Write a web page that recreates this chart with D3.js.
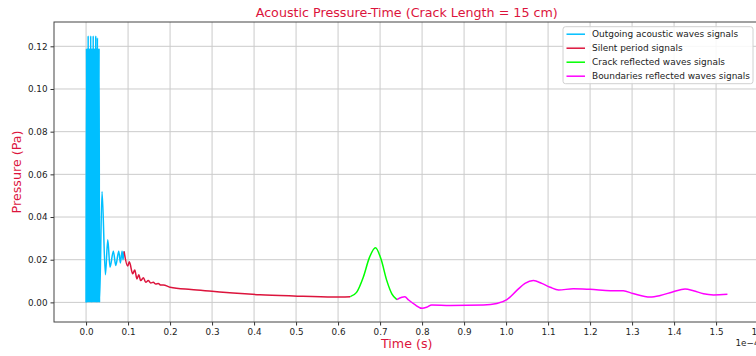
<!DOCTYPE html>
<html>
  <head>
    <script src="https://d3js.org/d3.v7.min.js"></script>
    <style>
      body { margin: 0; background: #fff; }
      svg { display: block; overflow: hidden; font-family: "DejaVu Sans", sans-serif; }
    </style>
  </head>
  <body>
    <svg width="756" height="356"></svg>
  <script>
    // time values are in units of 1e-4 s (matplotlib offset text)
    const outgoingT = [0.000,0.001,0.002,0.003,0.004,0.005,0.006,0.007,0.008,0.009,0.010,0.011,0.012,0.013,0.014,0.015,0.016,
      0.017,0.018,0.019,0.020,0.021,0.022,0.023,0.024,0.025,0.026,0.027,0.028,0.029,0.030,0.031,0.032,
      0.038,0.046,0.0517,0.057,0.065,0.0707,0.0778,0.0817,0.0857,0.088,0.0905];
    const outgoingP = [0,0.119,0,0.119,0,0.125,0,0.119,0,0.119,0,0.125,0,0.119,0,0.119,0,
      0.125,0,0.119,0,0.119,0,0.125,0,0.119,0,0.124,0,0.119,0,0.119,0,
      0.052,0.013,0.0294,0.0165,0.024,0.0173,0.024,0.0185,0.024,0.020,0.0239];

    const silentT = [0.0905,0.099,0.103,0.111,0.116,0.121,0.1255,0.130,0.1365,0.142,0.148,0.154,0.16,0.166,0.172,0.178,0.184,0.2,0.25,0.3,0.35,0.414,0.494,0.589,0.629];
    const silentP = [0.0239,0.017,0.019,0.0134,0.0152,0.011,0.0129,0.0102,0.0115,0.0094,0.0102,0.0091,0.0094,0.0086,0.0088,0.0081,0.0082,0.0071,0.006,0.0052,0.0044,0.0036,0.003,0.0025,0.0027];

    const crackT = [0.629,0.644,0.66,0.675,0.689,0.702,0.716,0.728,0.74];
    const crackP = [0.0027,0.0047,0.0118,0.0212,0.0256,0.0204,0.0102,0.004,0.0013];

    const boundT = [0.74,0.752,0.759,0.768,0.783,0.8,0.811,0.823,0.867,0.946,0.978,1.002,1.025,1.045,1.065,1.085,1.105,1.125,
      1.16,1.2,1.248,1.279,1.302,1.343,1.367,1.398,1.426,1.446,1.47,1.494,1.527];
    const boundP = [0.0013,0.0024,0.0026,0.0011,-0.0011,-0.0028,-0.0023,-0.0012,-0.0014,-0.0012,-0.0005,0.0013,0.0055,0.0089,0.0102,0.0089,0.0071,0.0058,
      0.0064,0.0061,0.0055,0.0054,0.0042,0.0025,0.0032,0.005,0.0063,0.0055,0.004,0.0035,0.0038];

    const xTicks = [0.0,0.1,0.2,0.3,0.4,0.5,0.6,0.7,0.8,0.9,1.0,1.1,1.2,1.3,1.4,1.5,1.6];
    const yTicks = [0.00,0.02,0.04,0.06,0.08,0.10,0.12];

    const seriesNames = ["Outgoing acoustic waves signals","Silent period signals","Crack reflected waves signals","Boundaries reflected waves signals"];
    const seriesColors = ["#00bfff","#dc143c","#00ff00","#ff00ff"];

    const svg = d3.select('svg');
    const margin = { top: 22, left: 54 };
    const plotW = 705.5;
    const plotH = 300;

    const series = [
      outgoingT.map((t, i) => [t, outgoingP[i]]),
      silentT.map((t, i) => [t, silentP[i]]),
      crackT.map((t, i) => [t, crackP[i]]),
      boundT.map((t, i) => [t, boundP[i]])
    ];
    const all = series.flat();

    // matplotlib style 5% margins
    const pad = ([a, b]) => { const m = (b - a) * 0.05; return [a - m, b + m]; };
    const xScale = d3.scaleLinear().domain(pad(d3.extent(all, d => d[0]))).range([0, plotW]);
    const yScale = d3.scaleLinear().domain(pad(d3.extent(all, d => d[1]))).range([plotH, 0]);

    const g = svg.append('g')
      .attr('transform', `translate(${margin.left},${margin.top})`);

    // grid
    g.append('g').selectAll('line').data(xTicks).enter().append('line')
      .attr('x1', d => xScale(d)).attr('x2', d => xScale(d))
      .attr('y1', 0).attr('y2', plotH)
      .attr('stroke', '#cbcbcb').attr('stroke-width', 1);
    g.append('g').selectAll('line').data(yTicks).enter().append('line')
      .attr('y1', d => yScale(d)).attr('y2', d => yScale(d))
      .attr('x1', 0).attr('x2', plotW)
      .attr('stroke', '#cbcbcb').attr('stroke-width', 1);

    // series
    const line = d3.line()
      .x(d => xScale(d[0]))
      .y(d => yScale(d[1]))
      .curve(d3.curveMonotoneX);

    series.forEach((s, i) => {
      g.append('path')
        .attr('d', line(s))
        .attr('fill', 'none')
        .attr('stroke', seriesColors[i])
        .attr('stroke-width', 1.5)
        .attr('stroke-linejoin', 'round');
    });

    // axes
    const xAxis = d3.axisBottom(xScale).tickValues(xTicks).tickFormat(d3.format('.1f')).tickSize(3.5).tickPadding(3);
    const yAxis = d3.axisLeft(yScale).tickValues(yTicks).tickFormat(d3.format('.2f')).tickSize(3.5).tickPadding(3);

    const xAxisG = g.append('g').attr('transform', `translate(0,${plotH})`).call(xAxis);
    const yAxisG = g.append('g').call(yAxis);
    [xAxisG, yAxisG].forEach(a => {
      a.select('.domain').remove();
      a.selectAll('.tick line').attr('stroke', '#333');
      a.selectAll('.tick text').attr('fill', '#222').style('font-size', '8.8px').style('font-family', '"DejaVu Sans"');
    });

    // spines
    g.append('rect')
      .attr('width', plotW).attr('height', plotH)
      .attr('fill', 'none').attr('stroke', '#444').attr('stroke-width', 1);

    // offset text
    g.append('text')
      .attr('x', plotW).attr('y', plotH + 24)
      .attr('text-anchor', 'end')
      .attr('fill', '#222')
      .style('font-size', '8.8px')
      .text('1e\u22124');

    // legend
    const legW = 190, legH = 57;
    const leg = g.append('g')
      .attr('transform', `translate(${plotW - legW - 6.5},${4.7})`);
    leg.append('rect')
      .attr('width', legW).attr('height', legH)
      .attr('rx', 2.5)
      .attr('fill', 'rgba(255,255,255,0.85)')
      .attr('stroke', '#d0d0d0');
    seriesNames.forEach((name, i) => {
      const y = 7.5 + i * 14;
      leg.append('line')
        .attr('x1', 3.5).attr('x2', 22).attr('y1', y).attr('y2', y)
        .attr('stroke', seriesColors[i]).attr('stroke-width', 1.5);
      leg.append('text')
        .attr('x', 29).attr('y', y).attr('dy', '0.35em')
        .attr('fill', '#222')
        .style('font-size', '8.95px')
        .text(name);
    });

    // title and labels
    svg.append('text')
      .attr('x', margin.left + plotW / 2).attr('y', 17)
      .attr('text-anchor', 'middle')
      .attr('fill', '#dc143c')
      .style('font-size', '12.7px')
      .text('Acoustic Pressure-Time (Crack Length = 15 cm)');

    svg.append('text')
      .attr('x', margin.left + plotW / 2).attr('y', 348)
      .attr('text-anchor', 'middle')
      .attr('fill', '#dc143c')
      .style('font-size', '12.7px')
      .text('Time (s)');

    svg.append('text')
      .attr('transform', `translate(21,${margin.top + plotH / 2}) rotate(-90)`)
      .attr('text-anchor', 'middle')
      .attr('fill', '#dc143c')
      .style('font-size', '12.7px')
      .text('Pressure (Pa)');
  </script>
  </body>
</html>
